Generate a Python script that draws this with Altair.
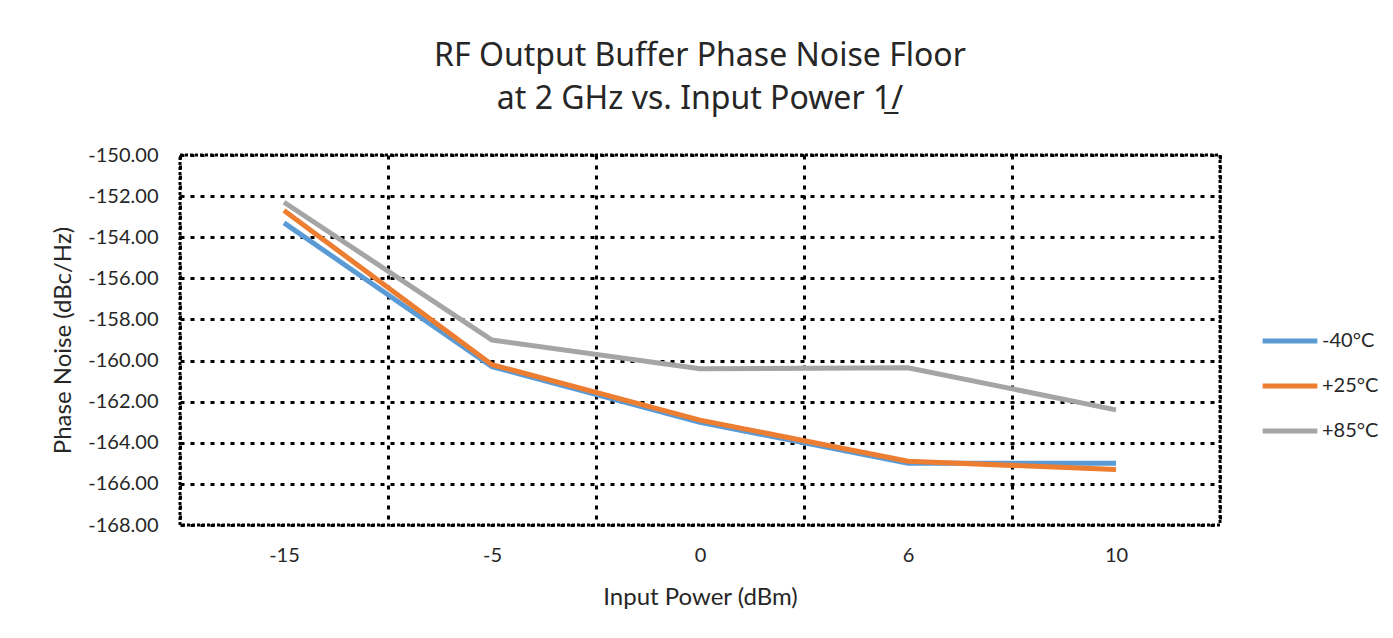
import altair as alt
import pandas as pd

power = ["-15", "-5", "0", "6", "10"]
series = ["-40°C", "+25°C", "+85°C"]
m40 = [-153.3, -160.3, -163.0, -165.0, -165.0]
p25 = [-152.7, -160.2, -162.9, -164.9, -165.3]
p85 = [-152.3, -159.0, -160.4, -160.35, -162.4]
colors = ["#5B9BD5", "#ED7D31", "#A5A5A5"]

rows = []
for name, vals in zip(series, [m40, p25, p85]):
    for p, v in zip(power, vals):
        rows.append({"power": p, "noise": v, "temp": name})
df = pd.DataFrame(rows)

FONT = "Lato"
TXT = "#262626"

chart = alt.Chart(df).mark_line(strokeWidth=5).encode(
    x=alt.X("power:N", sort=power, bandPosition=0.5,
            scale=alt.Scale(type="band", paddingInner=0, paddingOuter=0),
            axis=alt.Axis(title="Input Power (dBm)", labelAngle=0, tickBand="extent",
                          grid=True, gridColor="black", gridWidth=3, gridDash=[4, 6],
                          domain=False, ticks=False, labelPadding=20, titlePadding=20,
                          labelFontSize=20, titleFontSize=24)),
    y=alt.Y("noise:Q",
            scale=alt.Scale(domain=[-168, -150], nice=False, zero=False),
            axis=alt.Axis(title="Phase Noise (dBc/Hz)", values=list(range(-168, -149, 2)),
                          format=".2f", labelExpr="replace(datum.label, '\u2212', '-')",
                          grid=True, gridColor="black", gridWidth=3,
                          gridDash=[4, 6], domain=False, ticks=False, labelPadding=22,
                          titlePadding=12, labelFontSize=20, titleFontSize=24)),
    color=alt.Color("temp:N", sort=series,
                    scale=alt.Scale(domain=series, range=colors),
                    legend=alt.Legend(title=None, orient="none", legendX=1080, legendY=156,
                                      symbolType="stroke", symbolStrokeWidth=5,
                                      symbolSize=3000, labelFontSize=20, rowPadding=5,
                                      labelOffset=2)),
    order=alt.Order("temp:N")
).properties(
    width=1040, height=370,
    title=alt.Title(["RF Output Buffer Phase Noise Floor", "at 2 GHz vs. Input Power 1\u0332/"],
                    fontSize=32, font="Noto Sans", fontWeight="normal", color=TXT,
                    anchor="middle", offset=29, lineHeight=43),
    autosize=alt.AutoSizeParams(type="none"),
    padding={"left": 172, "top": 147, "right": 165, "bottom": 100},
).configure_view(
    stroke="black", strokeWidth=3, strokeDash=[3, 2]
).configure_axis(
    labelFont=FONT, titleFont=FONT, labelColor=TXT, titleColor=TXT,
    titleFontWeight="normal"
).configure_legend(
    labelFont=FONT, labelColor=TXT
)

chart.save("out.html", embed_options={"renderer": "svg", "actions": False})
